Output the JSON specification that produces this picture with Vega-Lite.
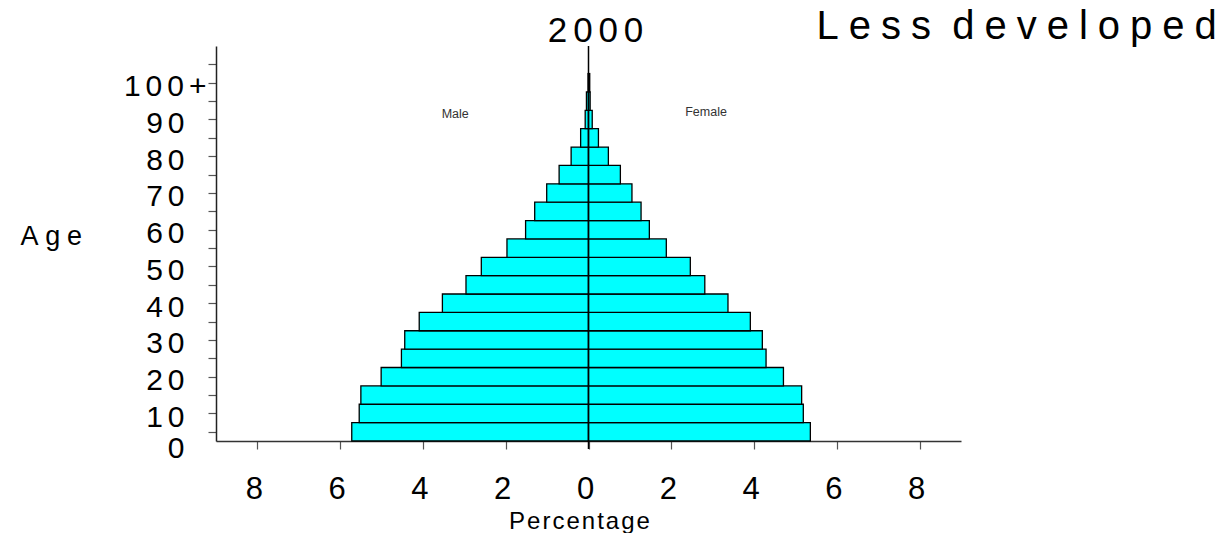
{
  "$schema": "https://vega.github.io/schema/vega-lite/v6.json",
  "width": 745,
  "height": 395,
  "autosize": {"type": "none"},
  "padding": {"left": 216, "top": 46, "right": 266, "bottom": 92},
  "background": "white",
  "config": {"view": {"stroke": null}, "font": "Liberation Sans", "axis": {"labelOverlap": false, "labelFlush": false, "grid": false}},
  "encoding": {
    "x": {
      "field": "pct", "type": "quantitative",
      "scale": {"domain": [-9, 9], "nice": false, "zero": false},
      "axis": {
        "values": [-8, -6, -4, -2, 0, 2, 4, 6, 8],
        "labelExpr": "format(abs(datum.value), 'd')",
        "labelFont": "Liberation Sans",
        "labelFontSize": 31,
        "labelColor": "#000000",
        "labelPadding": 25,
        "labelOffset": -3.5,
        "labelFlush": false,
        "labelOverlap": false,
        "tickSize": 8,
        "tickColor": "#555555",
        "tickWidth": 1.2,
        "domainColor": "#333333",
        "domainWidth": 1.5,
        "grid": false,
        "title": "P\u200ae\u200ar\u200ac\u200ae\u200an\u200at\u200aa\u200ag\u200ae",
        "titleFont": "Liberation Sans",
        "titleFontSize": 24,
        "titleFontWeight": "normal",
        "titleColor": "#000000",
        "titleX": 363,
        "titleY": 87,
        "titleAlign": "center",
        "titleBaseline": "alphabetic"
      }
    },
    "y": {
      "field": "age", "type": "quantitative",
      "scale": {"domain": [0, 107.5], "nice": false, "zero": false},
      "axis": {
        "values": [0, 2.5, 7.5, 12.5, 17.5, 22.5, 27.5, 32.5, 37.5, 42.5, 47.5, 52.5, 57.5, 62.5, 67.5, 72.5, 77.5, 82.5, 87.5, 92.5, 97.5, 102.5],
        "labelExpr": "datum.value == 0 ? '0' : datum.value == 97.5 ? '1\u20060\u20060\u2006+' : (datum.value % 10 == 7.5 ? substring(format(datum.value + 2.5, 'd'), 0, 1) + '\u2006' + substring(format(datum.value + 2.5, 'd'), 1) : '')",
        "labelFont": "Liberation Sans",
        "labelFontSize": 30,
        "labelColor": "#000000",
        "labelAlign": "right",
        "labelPadding": {"condition": {"test": "datum.value == 97.5", "value": 2}, "value": 24},
        "labelOffset": {"condition": {"test": "datum.value == 0", "value": 7}, "value": 4},
        "labelOverlap": false,
        "labelFlush": false,
        "tickSize": 8,
        "tickColor": "#555555",
        "tickWidth": 1.2,
        "tickOpacity": {"condition": {"test": "datum.value == 0", "value": 0}, "value": 1},
        "domainColor": "#222222",
        "domainWidth": 1.5,
        "grid": false,
        "title": "A\u2005g\u2005e",
        "titleFont": "Liberation Sans",
        "titleFontSize": 27,
        "titleFontWeight": "normal",
        "titleColor": "#000000",
        "titleAngle": 0,
        "titleAlign": "left",
        "titleBaseline": "alphabetic",
        "titleX": -196,
        "titleY": 198
      }
    }
  },
  "layer": [
    {
      "data": {"values": [
        {"age": 0, "ageEnd": 5, "sex": "Male", "pct": -5.72},
        {"age": 5, "ageEnd": 10, "sex": "Male", "pct": -5.54},
        {"age": 10, "ageEnd": 15, "sex": "Male", "pct": -5.50},
        {"age": 15, "ageEnd": 20, "sex": "Male", "pct": -5.01},
        {"age": 20, "ageEnd": 25, "sex": "Male", "pct": -4.52},
        {"age": 25, "ageEnd": 30, "sex": "Male", "pct": -4.44},
        {"age": 30, "ageEnd": 35, "sex": "Male", "pct": -4.09},
        {"age": 35, "ageEnd": 40, "sex": "Male", "pct": -3.53},
        {"age": 40, "ageEnd": 45, "sex": "Male", "pct": -2.96},
        {"age": 45, "ageEnd": 50, "sex": "Male", "pct": -2.59},
        {"age": 50, "ageEnd": 55, "sex": "Male", "pct": -1.97},
        {"age": 55, "ageEnd": 60, "sex": "Male", "pct": -1.52},
        {"age": 60, "ageEnd": 65, "sex": "Male", "pct": -1.30},
        {"age": 65, "ageEnd": 70, "sex": "Male", "pct": -1.01},
        {"age": 70, "ageEnd": 75, "sex": "Male", "pct": -0.71},
        {"age": 75, "ageEnd": 80, "sex": "Male", "pct": -0.42},
        {"age": 80, "ageEnd": 85, "sex": "Male", "pct": -0.19},
        {"age": 85, "ageEnd": 90, "sex": "Male", "pct": -0.08},
        {"age": 90, "ageEnd": 95, "sex": "Male", "pct": -0.05},
        {"age": 95, "ageEnd": 100, "sex": "Male", "pct": -0.01},
        {"age": 0, "ageEnd": 5, "sex": "Female", "pct": 5.36},
        {"age": 5, "ageEnd": 10, "sex": "Female", "pct": 5.19},
        {"age": 10, "ageEnd": 15, "sex": "Female", "pct": 5.15},
        {"age": 15, "ageEnd": 20, "sex": "Female", "pct": 4.71},
        {"age": 20, "ageEnd": 25, "sex": "Female", "pct": 4.29},
        {"age": 25, "ageEnd": 30, "sex": "Female", "pct": 4.20},
        {"age": 30, "ageEnd": 35, "sex": "Female", "pct": 3.91},
        {"age": 35, "ageEnd": 40, "sex": "Female", "pct": 3.37},
        {"age": 40, "ageEnd": 45, "sex": "Female", "pct": 2.81},
        {"age": 45, "ageEnd": 50, "sex": "Female", "pct": 2.46},
        {"age": 50, "ageEnd": 55, "sex": "Female", "pct": 1.88},
        {"age": 55, "ageEnd": 60, "sex": "Female", "pct": 1.47},
        {"age": 60, "ageEnd": 65, "sex": "Female", "pct": 1.27},
        {"age": 65, "ageEnd": 70, "sex": "Female", "pct": 1.05},
        {"age": 70, "ageEnd": 75, "sex": "Female", "pct": 0.77},
        {"age": 75, "ageEnd": 80, "sex": "Female", "pct": 0.48},
        {"age": 80, "ageEnd": 85, "sex": "Female", "pct": 0.24},
        {"age": 85, "ageEnd": 90, "sex": "Female", "pct": 0.09},
        {"age": 90, "ageEnd": 95, "sex": "Female", "pct": 0.04},
        {"age": 95, "ageEnd": 100, "sex": "Female", "pct": 0.03}
      ]},
      "mark": {"type": "bar", "fill": "#00FFFF", "stroke": "#000000", "strokeWidth": 1.3},
      "encoding": {
        "x2": {"datum": 0},
        "y2": {"field": "ageEnd"}
      }
    },
    {
      "data": {"values": [{"pct": 0, "age": -2.2, "ageEnd": 107.5}]},
      "mark": {"type": "rule", "color": "#000000", "strokeWidth": 1.5},
      "encoding": {
        "y2": {"field": "ageEnd"}
      }
    },
    {
      "data": {"values": [
        {"label": "Male", "pct": -3.22, "age": 89.1},
        {"label": "Female", "pct": 2.84, "age": 89.5}
      ]},
      "mark": {"type": "text", "font": "Liberation Sans", "fontSize": 12.5, "color": "#333333", "align": "center", "baseline": "middle"},
      "encoding": {
        "text": {"field": "label"}
      }
    },
    {
      "data": {"values": [
        {"label": "2\u20060\u20060\u20060", "pct": 0.17, "age": 108.7}
      ]},
      "mark": {"type": "text", "font": "Liberation Sans", "fontSize": 35, "color": "#000000", "align": "center", "baseline": "alphabetic"},
      "encoding": {
        "text": {"field": "label"}
      }
    },
    {
      "data": {"values": [
        {"label": "L\u2005e\u2005s\u2005s \u2005d\u2005e\u2005v\u2005e\u2005l\u2005o\u2005p\u2005e\u2005d", "pct": 5.51, "age": 109.3}
      ]},
      "mark": {"type": "text", "font": "Liberation Sans", "fontSize": 40, "color": "#000000", "align": "left", "baseline": "alphabetic"},
      "encoding": {
        "text": {"field": "label"}
      }
    }
  ]
}
